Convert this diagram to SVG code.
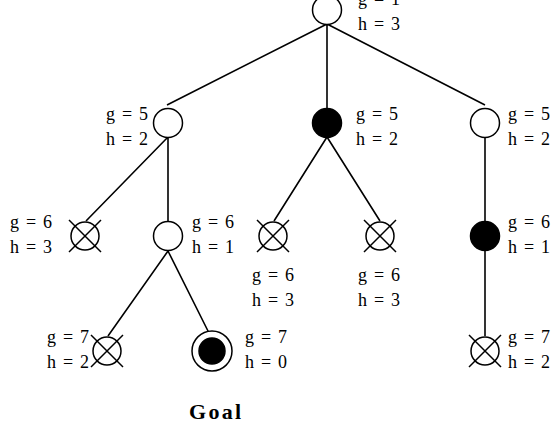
<svg xmlns="http://www.w3.org/2000/svg" width="554" height="437" viewBox="0 0 554 437">
<style>
.n{fill:#fff;stroke:#000;stroke-width:1.5}
.f{fill:#000;stroke:#000;stroke-width:1.5}
.e{stroke:#000;stroke-width:1.6;fill:none}
text{font-family:"Liberation Serif","Times New Roman",serif;font-size:18px;fill:#000}
.b{font-weight:bold;font-size:22px}
</style>
<defs>
<g id="cross"><circle r="14" fill="#fff" stroke="#000" stroke-width="1.5"/><path d="M-16,-16L16,16M16,-16L-16,16" stroke="#000" stroke-width="1.5"/></g>
</defs>
<g id="edges">
<path class="e" d="M327,24L167,105M327,24V108M327,24L485,105"/>
<path class="e" d="M168,137L86,221M168,137V222"/>
<path class="e" d="M327,137L274,221M327,137L380,221"/>
<path class="e" d="M485,137V222"/>
<path class="e" d="M168,251L108,336M168,251L211,337"/>
<path class="e" d="M485,251V336"/>
</g>
<g id="root"><circle class="n" cx="327" cy="10" r="14.5"/><text x="358" y="5" textLength="42">g=1</text><text x="358" y="30" textLength="42">h=3</text></g>
<g id="a"><circle class="n" cx="168" cy="123" r="14.5"/><text x="106" y="120" textLength="42">g=5</text><text x="106" y="145" textLength="42">h=2</text></g>
<g id="m"><circle class="f" cx="327" cy="123" r="14.5"/><text x="356" y="120" textLength="42">g=5</text><text x="356" y="145" textLength="42">h=2</text></g>
<g id="r"><circle class="n" cx="485" cy="123" r="14.5"/><text x="508" y="120" textLength="42">g=5</text><text x="508" y="145" textLength="42">h=2</text></g>
<g id="x1"><use href="#cross" x="85" y="236"/><text x="10" y="228" textLength="42">g=6</text><text x="10" y="253" textLength="42">h=3</text></g>
<g id="bnode"><circle class="n" cx="168" cy="236" r="14.5"/><text x="192" y="228" textLength="42">g=6</text><text x="192" y="253" textLength="42">h=1</text></g>
<g id="x2"><use href="#cross" x="273" y="236"/><text x="252" y="281" textLength="42">g=6</text><text x="252" y="306" textLength="42">h=3</text></g>
<g id="x3"><use href="#cross" x="380" y="236"/><text x="358" y="281" textLength="42">g=6</text><text x="358" y="306" textLength="42">h=3</text></g>
<g id="f"><circle class="f" cx="485" cy="236" r="14.5"/><text x="508" y="228" textLength="42">g=6</text><text x="508" y="253" textLength="42">h=1</text></g>
<g id="x4"><use href="#cross" x="107" y="351"/><text x="47" y="343" textLength="42">g=7</text><text x="47" y="368" textLength="42">h=2</text></g>
<g id="goal"><circle class="n" cx="212" cy="351" r="20"/><circle class="f" cx="212" cy="351" r="13"/><text x="245" y="343" textLength="42">g=7</text><text x="245" y="368" textLength="42">h=0</text><text class="b" x="189" y="419" textLength="52">Goal</text></g>
<g id="x5"><use href="#cross" x="485" y="351"/><text x="508" y="343" textLength="42">g=7</text><text x="508" y="368" textLength="42">h=2</text></g>
</svg>
